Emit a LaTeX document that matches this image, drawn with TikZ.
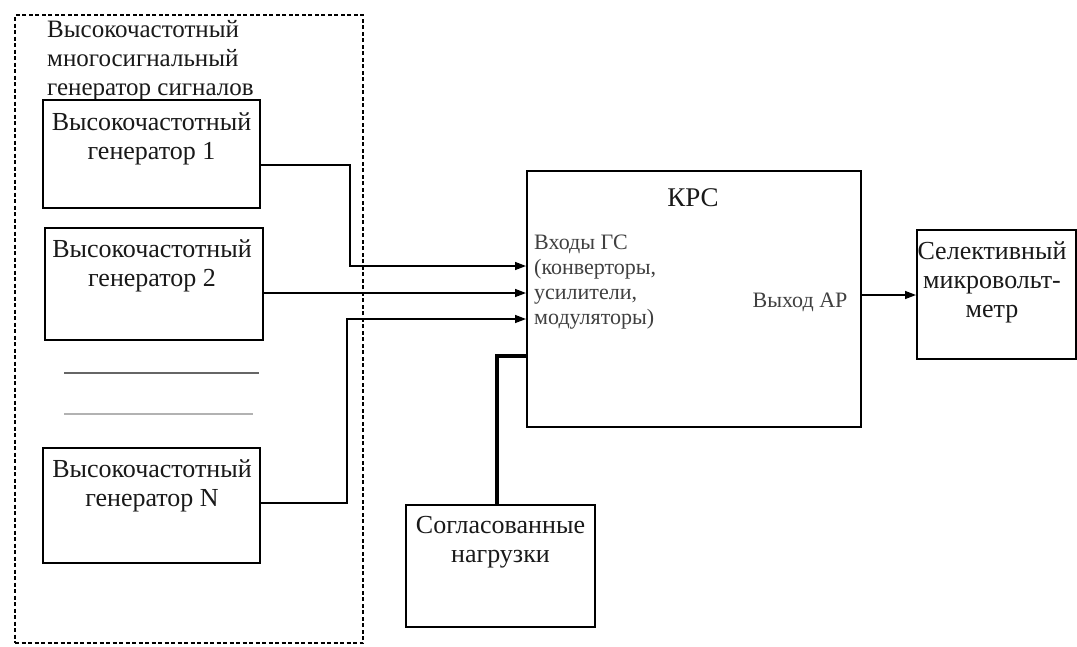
\documentclass[tikz,border=0pt]{standalone}
\usepackage{fontspec}
\setmainfont{Liberation Serif}
\usetikzlibrary{arrows.meta,calc}
\begin{document}
\begin{tikzpicture}[x=1pt,y=-1pt,
  box/.style={draw, line width=2pt, inner sep=0pt},
  grpbox/.style={draw, line width=1.3pt, dash pattern=on 4pt off 2.5pt, inner sep=0pt},
  conn/.style={line width=1.4pt},
  arr/.style={conn, -{Triangle[length=11pt,width=8pt]}},
  thickconn/.style={line width=4pt},
  txt/.style={inner sep=0pt, align=center, text=black!90, font=\fontsize{26}{29}\selectfont},
  smalltxt/.style={inner sep=0pt, align=left, text=black!75, font=\fontsize{22}{25}\selectfont},
]
\useasboundingbox (0,0) rectangle (1077,646);
\fill[white] (0,0) rectangle (1077,646);

% group
\node[grpbox, minimum width=348pt, minimum height=628pt] (grp) at (189,329) {};
\node[txt, align=left, anchor=north west, font=\fontsize{25}{29}\selectfont] (title) at (47,20) {Высокочастотный\\многосигнальный\\генератор сигналов};

% generators
\node[box, minimum width=217pt, minimum height=108pt] (g1) at (151.5,154) {};
\node[box, minimum width=218pt, minimum height=112pt] (g2) at (154,284) {};
\node[box, minimum width=217pt, minimum height=115pt] (gN) at (151.5,505.5) {};
\node[txt, anchor=north] (g1t) at (151.5,112) {Высокочастотный\\генератор 1};
\node[txt, anchor=north] (g2t) at (152,239) {Высокочастотный\\генератор 2};
\node[txt, anchor=north] (gNt) at (152,459) {Высокочастотный\\генератор N};

\draw[black!60, line width=1.2pt] (64,373) -- (259,373);
\draw[black!30, line width=1.4pt] (64,414) -- (253,414);

% KPC
\node[box, minimum width=334pt, minimum height=256pt] (kpc) at (694,299) {};
\node[txt, anchor=north, font=\fontsize{27}{30}\selectfont] (kpct) at (693,188) {КРС};
\node[smalltxt, anchor=north west] (inp) at (534,235) {Входы ГС\\(конверторы,\\усилители,\\модуляторы)};
\node[smalltxt, anchor=north] (outp) at (800,293) {Выход АР};

% selective voltmeter
\node[box, minimum width=159pt, minimum height=129pt] (sel) at (996.5,294.5) {};
\node[txt, anchor=north] (selt) at (992,241) {Селективный\\микровольт-\\метр};

% matched loads
\node[box, minimum width=189pt, minimum height=122pt] (sog) at (500.5,566) {};
\node[txt, anchor=north] (sogt) at (500.5,516) {Согласованные\\нагрузки};

% connectors
\coordinate (i1) at (kpc.west |- 0,266);
\coordinate (i2) at (kpc.west |- 0,293);
\coordinate (i3) at (kpc.west |- 0,319);
\coordinate (i4) at (kpc.west |- 0,356);
\draw[arr] (g1.east |- 0,165) -- (350,165) -- (350,266) -- (i1);
\draw[arr] (g2.east |- 0,293) -- (i2);
\draw[arr] (gN.east |- 0,503) -- (347,503) -- (347,319) -- (i3);
\draw[thickconn] (sog.north -| 497,0) |- (i4);
\draw[arr] (kpc.east |- 0,295) -- (sel.west |- 0,295);
\end{tikzpicture}
\end{document}
